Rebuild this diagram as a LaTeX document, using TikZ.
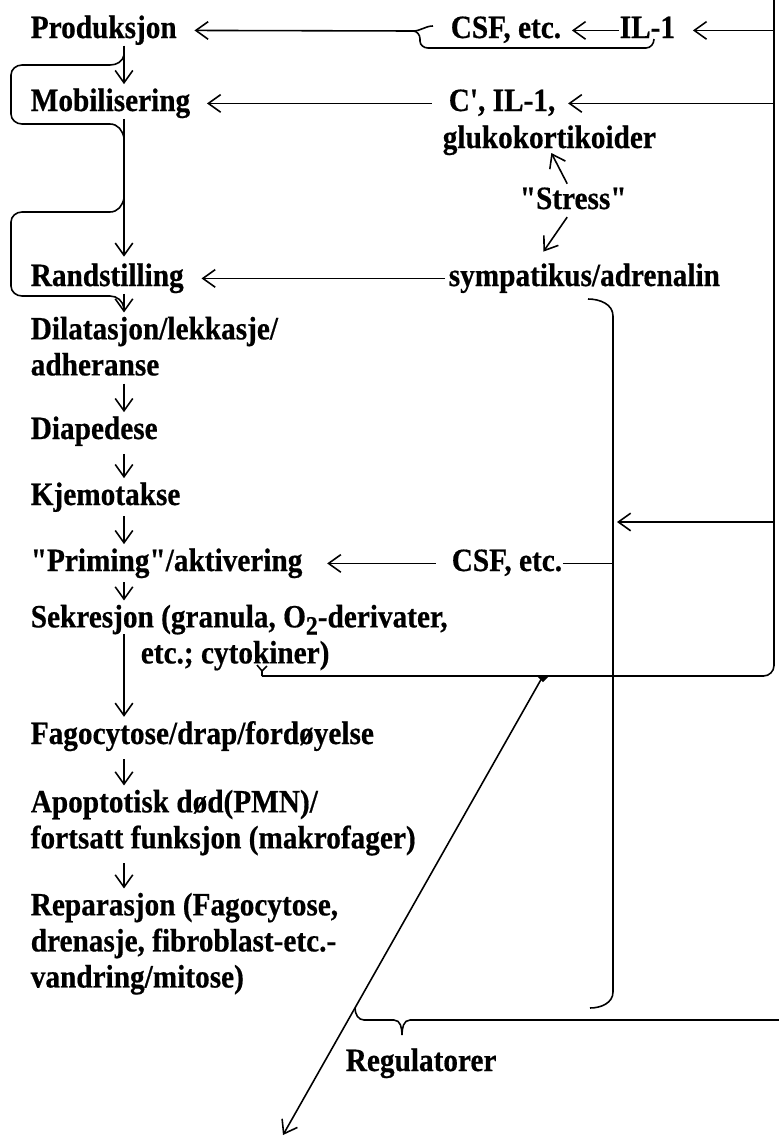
\documentclass[tikz,border=0pt]{standalone}
\usepackage{fontspec}
\newfontfamily\figfont{Liberation Serif}[Ligatures=TeXOff,FakeStretch=0.9,FakeBold=0.5]
\usepackage{tikz}
\usetikzlibrary{arrows.meta}

\begin{document}
\begin{tikzpicture}[x=0.01cm,y=-0.01cm,line width=0.45pt,
    txt/.style={anchor=base west,inner sep=0pt,align=left,
      font=\figfont\bfseries\fontsize{9.25}{10.25}\selectfont},
    pil/.style={-{Straight Barb[length=3.5pt,width=5pt]}}]
  \useasboundingbox (0,0) rectangle (779,1145);
  \coordinate (sp) at (124,0);
  \coordinate (rl) at (774,0);
  \coordinate (brk) at (613,0);

  \node[txt] (prod) at (30,38) {Produksjon};
  \node[txt] (mob) at (30,111) {Mobilisering};
  \node[txt] (rand) at (30,286) {Randstilling};
  \node[txt,anchor=north west] (dil) at (30,316) {Dilatasjon/lekkasje/\\adheranse};
  \node[txt] (diap) at (30,439) {Diapedese};
  \node[txt] (kjem) at (30,505) {Kjemotakse};
  \node[txt] (prim) at (30,571) {"Priming"/aktivering};
  \node[txt,anchor=north west] (sekr) at (30,604)
    {Sekresjon (granula, O\raisebox{-0.22em}{\fontsize{7.5}{8}\selectfont 2}-derivater,\\\hspace*{1.1cm}etc.; cytokiner)};
  \node[txt] (fago) at (30,744) {Fagocytose/drap/fordøyelse};
  \node[txt,anchor=north west] (apop) at (30,789) {Apoptotisk død(PMN)/\\fortsatt funksjon (makrofager)};
  \node[txt,anchor=north west] (repa) at (30,892) {Reparasjon (Fagocytose,\\drenasje, fibroblast-etc.-\\vandring/mitose)};

  \node[txt] (csfa) at (450,38) {CSF, etc.};
  \node[txt] (ila) at (619,38) {IL-1};
  \node[txt] (cil) at (448,111) {C', IL-1,};
  \node[txt] (gluk) at (442,148) {glukokortikoider};
  \node[txt] (stress) at (519,209) {"Stress"};
  \node[txt] (symp) at (448,286) {sympatikus/adrenalin};
  \node[txt] (csfb) at (451,571) {CSF, etc.};
  \node[txt] (reg) at (345,1071) {Regulatorer};

  \draw[pil,shorten >=1pt] (prod.south -| sp) -- (mob.north -| sp);
  \draw[pil,shorten >=1.7pt] (mob.south -| sp) -- (rand.north -| sp);
  \draw[pil,shorten >=1pt] (rand.south -| sp) -- (dil.north -| sp);
  \draw[pil,shorten <=2pt,shorten >=1pt] (dil.south -| sp) -- (diap.north -| sp);
  \draw[pil,shorten <=2pt,shorten >=1pt] (diap.south -| sp) -- (kjem.north -| sp);
  \draw[pil,shorten <=1pt,shorten >=1pt] (kjem.south -| sp) -- (prim.north -| sp);
  \draw[pil,shorten <=1pt,shorten >=1pt] (prim.south -| sp) -- (sekr.north -| sp);
  \draw[pil,shorten >=1pt] ([yshift=-0.3cm]sekr.north -| sp) -- (fago.north -| sp);
  \draw[pil,shorten <=2pt,shorten >=1pt] (fago.south -| sp) -- (apop.north -| sp);
  \draw[pil,shorten <=2pt,shorten >=1pt] (apop.south -| sp) -- (repa.north -| sp);

  \draw (124,55) to[out=-100,in=0] (110,65) -- (22,65) to[out=180,in=90] (11,75)
    -- (11,114) to[out=-90,in=180] (22,124) -- (110,124) to[out=0,in=100] (124,138);
  \draw (124,198) to[out=-100,in=0] (110,212) -- (22,212) to[out=180,in=90] (11,222)
    -- (11,286) to[out=-90,in=180] (22,296) -- (110,296) to[out=0,in=100] (124,308);

  \coordinate (tipc) at (413,31);
  \draw[pil] (tipc) -- ([xshift=0.17cm]prod.mid east);
  \draw (tipc) to[out=0,in=180] (433,26);
  \draw (tipc) to[out=0,in=90] (420,39) -- (420,41) to[out=-90,in=180] (428,48)
    -- (646,48) to[out=0,in=-90] (654,39);
  \draw[pil] (ila.mid west) -- ([xshift=0.1cm]csfa.mid east);
  \draw[pil] (ila.mid east -| rl) -- ([xshift=0.17cm]ila.mid east);

  \draw[pil] ([xshift=-0.16cm]cil.mid west) -- ([xshift=0.16cm]mob.mid east);
  \draw[pil] (cil.mid east -| rl) -- ([xshift=0.12cm]cil.mid east);
  \draw[pil] ([shift={(-6,-3)}]stress.north) -- ([shift={(2,5)}]gluk.base);
  \draw[pil] ([shift={(-6,7)}]stress.south) -- ([shift={(-41,-11)}]symp.north);
  \draw[pil] ([xshift=-0.03cm]symp.mid west) -- ([xshift=0.17cm]rand.mid east);

  \draw (588,299) to[out=0,in=90] (613,316) -- (613,992) to[out=-90,in=0] (590,1008);
  \coordinate (inn) at (617,522);
  \draw[pil] (inn -| rl) -- (inn);
  \draw (csfb.mid east) -- (csfb.mid east -| brk);
  \draw[pil] ([xshift=-0.15cm]csfb.mid west) -- ([xshift=0.24cm]prim.mid east);

  \coordinate (yk) at (262,676);
  \coordinate (spl) at (543,676);
  \draw[rounded corners=3pt] (rl) |- (yk);
  \draw (yk) -- ++(0,-5) -- ++(-5,-6) ++(5,6) -- ++(5,-5);
  \fill (537,676) -- (549,676) -- (543,682) -- cycle;
  \coordinate (ut) at (283,1135);
  \draw[pil] (spl) -- (ut);

  \draw (355,1008) to[out=-90,in=180] (364,1020) -- (394,1020) to[out=0,in=90] (402,1035)
    to[out=90,in=180] (410,1020) -- (779,1020);
\end{tikzpicture}
\end{document}
